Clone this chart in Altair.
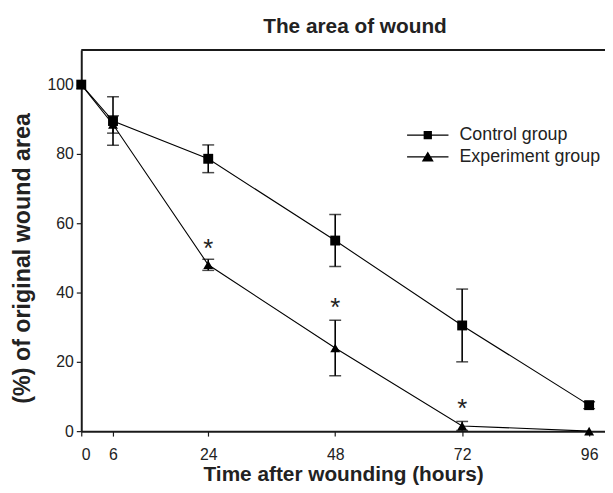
import altair as alt
import pandas as pd

hours = [0, 6, 24, 48, 72, 96]
control_mean = [100, 89.5, 78.6, 55.0, 30.5, 7.5]
control_err = [0.0, 7.0, 4.0, 7.5, 10.5, 1.0]
exp_mean = [100, 88.5, 48.0, 24.0, 1.5, 0.0]
exp_err = [0.0, 2.5, 1.6, 8.0, 1.3, 0.0]
star_hours = [24, 48, 72]
star_y = [52.5, 35.5, 6.5]
groups = ["Control group", "Experiment group"]

rows = []
for h, m, e in zip(hours, control_mean, control_err):
    rows.append({"h": h, "v": m, "lo": m - e, "hi": m + e, "g": groups[0]})
for h, m, e in zip(hours, exp_mean, exp_err):
    rows.append({"h": h, "v": m, "lo": max(m - e, 0), "hi": m + e, "g": groups[1]})
df = pd.DataFrame(rows)
err_df = df[df["hi"] - df["lo"] > 0.5]
stars = pd.DataFrame({"h": star_hours, "y": star_y, "t": ["*"] * 3})

XMAX = 99
YMAX = 110
frame = pd.DataFrame({"x0": [0], "x1": [XMAX], "y": [YMAX]})
xs = alt.Scale(domain=[0, XMAX], nice=False, zero=False)
ys = alt.Scale(domain=[0, YMAX], nice=False)
FONT = "Liberation Sans"
X = alt.X("h:Q", scale=xs, title="Time after wounding (hours)",
          axis=alt.Axis(values=hours, grid=False, domainColor="#1a1a1a", domainWidth=2,
                        tickColor="#1a1a1a", tickSize=5, tickWidth=1.2, labelFontSize=16,
                        labelColor="#222", labelPadding=11, titleFontSize=21,
                        titleFontWeight="bold", titleColor="#222", titlePadding=1,
                        labelFont=FONT, titleFont=FONT))
Y = alt.Y("v:Q", scale=ys, title="(%) of original wound area",
          axis=alt.Axis(values=[0, 20, 40, 60, 80, 100], grid=False, domainColor="#1a1a1a",
                        domainWidth=2, tickColor="#1a1a1a", tickSize=5, tickWidth=1.2,
                        labelFontSize=16, labelColor="#222", labelPadding=3,
                        titleFontSize=23.5, titleFontWeight="bold", titleColor="#222",
                        titleX=-59, titleY=210, titleAngle=270, titleAlign="center",
                        titleBaseline="middle", labelFont=FONT, titleFont=FONT))

base = alt.Chart(df)
lines = base.mark_line(color="black", strokeWidth=1.1).encode(x=X, y=Y, detail="g:N")

frame_top = alt.Chart(frame).mark_rule(color="#1a1a1a", strokeWidth=2).encode(
    x=alt.X("x0:Q", scale=xs), x2="x1:Q", y=alt.Y("y:Q", scale=ys))

rule = alt.Chart(err_df).mark_rule(color="black", strokeWidth=1.6).encode(
    x=alt.X("h:Q", scale=xs), y=alt.Y("lo:Q", scale=ys), y2="hi:Q")
cap_lo = alt.Chart(err_df).mark_tick(color="black", thickness=1.5, size=12, orient="horizontal").encode(
    x=alt.X("h:Q", scale=xs), y=alt.Y("lo:Q", scale=ys))
cap_hi = alt.Chart(err_df).mark_tick(color="black", thickness=1.5, size=12, orient="horizontal").encode(
    x=alt.X("h:Q", scale=xs), y=alt.Y("hi:Q", scale=ys))

pts = base.mark_point(filled=True, color="black", opacity=1, size=100).encode(
    x=alt.X("h:Q", scale=xs), y=alt.Y("v:Q", scale=ys),
    shape=alt.Shape("g:N", scale=alt.Scale(domain=groups, range=["square", "triangle-up"]),
                    legend=None))

leg_paths = [
    "M-1.9,-0.055H1.9V0.055H-1.9Z M-0.38,-0.38H0.38V0.38H-0.38Z",
    "M-1.9,-0.055H1.9V0.055H-1.9Z M0,-0.5L0.55,0.42H-0.55Z",
]
legend_layer = base.mark_point(filled=True, color="black", opacity=0, size=0).encode(
    x=alt.X("h:Q", scale=xs), y=alt.Y("v:Q", scale=ys),
    shape=alt.Shape("g:N", scale=alt.Scale(domain=groups, range=leg_paths),
                    legend=alt.Legend(title=None, orient="none", legendX=339, legendY=75,
                                      symbolSize=484, symbolOpacity=1,
                                      symbolFillColor="black", symbolStrokeWidth=0,
                                      labelFontSize=18, labelColor="#222", labelFont=FONT,
                                      rowPadding=2, labelOffset=21)))

star_text = alt.Chart(stars).mark_text(fontSize=26, color="#222", baseline="middle",
                                       font=FONT).encode(
    x=alt.X("h:Q", scale=xs), y=alt.Y("y:Q", scale=ys), text="t:N")

chart = alt.layer(lines, frame_top, rule, cap_lo, cap_hi, pts, legend_layer, star_text).resolve_scale(
    shape="independent").properties(
    width=529, height=385,
    title=alt.TitleParams("The area of wound", fontSize=21, fontWeight="bold",
                          font=FONT, color="#222", dx=12, offset=12),
    autosize=alt.AutoSizeParams(type="none"),
    padding={"left": 74, "top": 40, "right": 0, "bottom": 52},
).configure_view(stroke=None)

chart.save("out.html", embed_options={"renderer": "svg", "actions": False})
